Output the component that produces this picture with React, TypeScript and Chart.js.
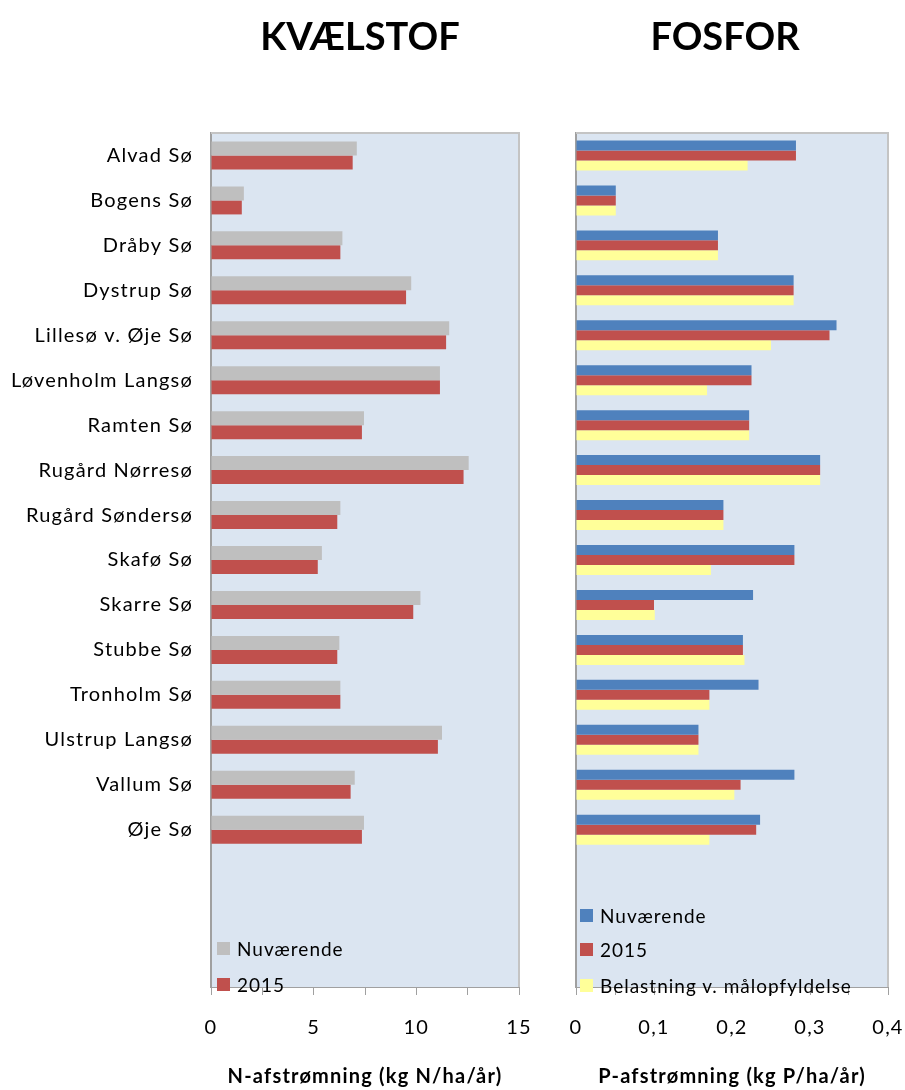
import React, { useEffect, useRef } from "react";
import { Chart, registerables } from "chart.js";
Chart.register(...registerables);

const lakes = [
  "Alvad Sø", "Bogens Sø", "Dråby Sø", "Dystrup Sø", "Lillesø v. Øje Sø",
  "Løvenholm Langsø", "Ramten Sø", "Rugård Nørresø", "Rugård Søndersø", "Skafø Sø",
  "Skarre Sø", "Stubbe Sø", "Tronholm Sø", "Ulstrup Langsø", "Vallum Sø", "Øje Sø",
  "", "", "",
];

const nNuvaerende = [7.1, 1.6, 6.4, 9.75, 11.6, 11.15, 7.45, 12.55, 6.3, 5.4, 10.2, 6.25, 6.3, 11.25, 7.0, 7.45];
const n2015 = [6.9, 1.5, 6.3, 9.5, 11.45, 11.15, 7.35, 12.3, 6.15, 5.2, 9.85, 6.15, 6.3, 11.05, 6.8, 7.35];

const pNuvaerende = [0.282, 0.051, 0.182, 0.279, 0.334, 0.225, 0.222, 0.313, 0.189, 0.28, 0.227, 0.214, 0.234, 0.157, 0.28, 0.236];
const p2015 = [0.282, 0.051, 0.182, 0.279, 0.325, 0.225, 0.222, 0.313, 0.189, 0.28, 0.1, 0.214, 0.171, 0.157, 0.211, 0.231];
const pMaal = [0.22, 0.051, 0.182, 0.279, 0.25, 0.168, 0.222, 0.313, 0.189, 0.173, 0.101, 0.216, 0.171, 0.157, 0.203, 0.171];

const nTicks = { min: 0, max: 15, step: 2.5, labelEvery: 5 };
const pTicks = { min: 0, max: 0.4, step: 0.05, labelEvery: 0.1 };

const FONT = "Lato, 'Open Sans', sans-serif";
const GRAY = "#BFBFBF";
const RED = "#C0504D";
const BLUE = "#4F81BD";
const YELLOW = "#FFFF99";
const PLOT_BG = "#DBE5F1";

const plotPlugin = {
  id: "plotBg",
  beforeDraw(chart: any) {
    const ctx = chart.ctx;
    ctx.letterSpacing = "1.2px";
    const a = chart.chartArea;
    ctx.save();
    ctx.fillStyle = PLOT_BG;
    ctx.fillRect(a.left, a.top, a.right - a.left, a.bottom - a.top);
    ctx.restore();
  },
  afterDraw(chart: any) {
    const ctx = chart.ctx;
    const a = chart.chartArea;
    ctx.save();
    ctx.strokeStyle = "#C4C4C4";
    ctx.lineWidth = 2;
    ctx.beginPath();
    ctx.moveTo(a.left, a.top);
    ctx.lineTo(a.right, a.top);
    ctx.lineTo(a.right, a.bottom);
    ctx.stroke();
    ctx.restore();
  },
};

function fmt(v: number) {
  if (v === 0) return "0";
  return String(Math.round(v * 100) / 100).replace(".", ",");
}

function makeConfig(
  datasets: any[],
  ticks: { min: number; max: number; step: number; labelEvery: number },
  axisTitle: string,
  yWidth: number,
  rightPad: number,
  showLabels: boolean,
  catPct: number
) {
  return {
    type: "bar",
    data: { labels: lakes, datasets },
    plugins: [plotPlugin],
    options: {
      indexAxis: "y",
      responsive: false,
      animation: false,
      datasets: { bar: { categoryPercentage: catPct, barPercentage: 1 } },
      layout: { padding: { top: 133, right: rightPad, bottom: 0, left: 0 } },
      plugins: { legend: { display: false }, title: { display: false }, tooltip: { enabled: false } },
      scales: {
        y: {
          type: "category",
          grid: { display: false, drawTicks: false },
          border: { display: true, color: "#A0A0A0", width: 2 },
          ticks: {
            display: showLabels,
            autoSkip: false,
            padding: 18,
            color: "#000",
            font: { family: FONT, size: 20 },
          },
          afterFit(scale: any) {
            scale.width = yWidth;
            scale.paddingTop = 0;
            scale.paddingBottom = 0;
          },
        },
        x: {
          type: "linear",
          min: ticks.min,
          max: ticks.max,
          grid: { drawOnChartArea: false, drawTicks: true, tickLength: 8, color: "#A0A0A0" },
          border: { display: true, color: "#A0A0A0", width: 1 },
          ticks: {
            stepSize: ticks.step,
            autoSkip: false,
            maxRotation: 0,
            padding: 21,
            color: "#000",
            font: { family: FONT, size: 20 },
            callback(v: any) {
              const r = v / ticks.labelEvery;
              return Math.abs(r - Math.round(r)) < 1e-6 ? fmt(v) : "";
            },
          },
          title: {
            display: true,
            text: axisTitle,
            color: "#000",
            font: { family: FONT, size: 20, weight: "bold" },
            padding: { top: 0, bottom: 1 },
          },
          afterFit(scale: any) {
            scale.height = 103;
            scale.paddingLeft = 0;
            scale.paddingRight = 0;
          },
        },
      },
    },
  } as any;
}

function ChartCanvas({ config, left, width }: { config: any; left: number; width: number }) {
  const ref = useRef<HTMLCanvasElement | null>(null);
  useEffect(() => {
    if (!ref.current) return;
    const chart = new Chart(ref.current, config);
    return () => chart.destroy();
  }, []);
  return (
    <canvas
      ref={ref}
      width={width}
      height={1090}
      style={{ position: "absolute", left, top: 0, width, height: 1090 }}
    />
  );
}

const textStyle: React.CSSProperties = {
  position: "absolute",
  fontFamily: FONT,
  fontSize: 19,
  lineHeight: "22px",
  letterSpacing: "1px",
  color: "#000",
  whiteSpace: "nowrap",
};

function LegendItem({ x, y, color, label }: { x: number; y: number; color: string; label: string }) {
  return (
    <>
      <div style={{ position: "absolute", left: x, top: y - 7, width: 13, height: 13, background: color }} />
      <div style={{ ...textStyle, left: x + 20, top: y - 11 }}>{label}</div>
    </>
  );
}

export default function App() {
  const nConfig = makeConfig(
    [
      { label: "Nuværende", data: nNuvaerende, backgroundColor: GRAY },
      { label: "2015", data: n2015, backgroundColor: RED },
    ],
    nTicks,
    "N-afstrømning (kg N/ha/år)",
    211,
    26,
    true,
    0.623
  );
  const pConfig = makeConfig(
    [
      { label: "Nuværende", data: pNuvaerende, backgroundColor: BLUE },
      { label: "2015", data: p2015, backgroundColor: RED },
      { label: "Belastning v. målopfyldelse", data: pMaal, backgroundColor: YELLOW },
    ],
    pTicks,
    "P-afstrømning (kg P/ha/år)",
    31,
    17,
    false,
    0.667
  );
  return (
    <div style={{ position: "absolute", left: 0, top: 0, width: 905, height: 1090, background: "#fff", overflow: "hidden" }}>
      <ChartCanvas config={nConfig} left={0} width={545} />
      <ChartCanvas config={pConfig} left={545} width={360} />
      <div style={{ position: "absolute", left: 160, width: 400, top: 12, textAlign: "center", fontFamily: FONT, fontWeight: "bold", fontSize: 38, lineHeight: "46px", color: "#000" }}>
        KVÆLSTOF
      </div>
      <div style={{ position: "absolute", left: 525, width: 400, top: 12, textAlign: "center", fontFamily: FONT, fontWeight: "bold", fontSize: 38, lineHeight: "46px", color: "#000" }}>
        FOSFOR
      </div>
      <LegendItem x={217} y={949} color={GRAY} label="Nuværende" />
      <LegendItem x={217} y={985} color={RED} label="2015" />
      <LegendItem x={580} y={916} color={BLUE} label="Nuværende" />
      <LegendItem x={580} y={950} color={RED} label="2015" />
      <LegendItem x={580} y={986} color={YELLOW} label="Belastning v. målopfyldelse" />
    </div>
  );
}
